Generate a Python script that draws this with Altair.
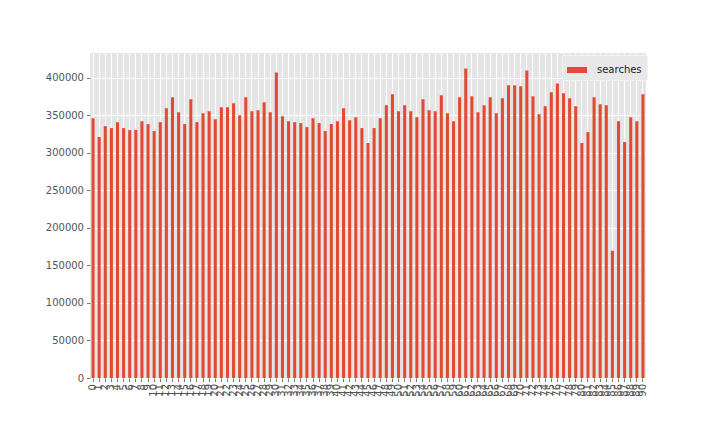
import altair as alt
import pandas as pd

# bar heights for index 0..90
searches = [
    346100, 321000, 335500, 332900, 340800, 332900, 330200, 330200, 342100, 338200,
    328900, 340800, 359400, 373900, 354100, 338200, 371300, 340800, 352700, 355400,
    344800, 360600, 360600, 366000, 350100, 373900, 355400, 356700, 367300, 354100,
    407000, 348800, 342100, 340800, 339500, 334200, 346100, 339500, 328900, 338200,
    342100, 359400, 343400, 347400, 332900, 313000, 332900, 346100, 363300, 377900,
    355400, 363300, 355400, 347400, 371300, 356700, 355400, 376600, 352700, 342100,
    373900, 412300, 375200, 354100, 363300, 373900, 352700, 372600, 389800, 389800,
    388500, 409700, 375200, 351400, 362000, 380500, 392400, 379200, 372600, 362000,
    313000, 327500, 373900, 364600, 363300, 169500, 342100, 314300, 347400, 342100,
    377900,
]
index = list(range(len(searches)))
y_ticks = [0, 50000, 100000, 150000, 200000, 250000, 300000, 350000, 400000]

df = pd.DataFrame({"idx": index, "searches": searches, "series": ["searches"] * len(index)})

bars = alt.Chart(df).mark_bar(color="#E24A33").encode(
    x=alt.X(
        "idx:O",
        sort=index,
        scale=alt.Scale(paddingInner=0.5, paddingOuter=0.25),
        axis=alt.Axis(
            title=None, labelAngle=270, labelOverlap=False, labelBound=False,
            labelFontSize=10, labelColor="#555555", labelFont="DejaVu Sans",
            tickColor="#555555", tickSize=3.5, tickWidth=0.8, domain=False,
            grid=True, gridColor="#FFFFFF", gridWidth=1, bandPosition=0.5,
            labelPadding=2,
        ),
    ),
    y=alt.Y(
        "searches:Q",
        scale=alt.Scale(domain=[0, 432900], nice=False, zero=True),
        axis=alt.Axis(
            title=None, values=y_ticks, format="d",
            labelFontSize=10, labelColor="#555555", labelFont="DejaVu Sans",
            tickColor="#555555", tickSize=3.5, tickWidth=0.8, domain=False,
            grid=True, gridColor="#FFFFFF", gridWidth=1, labelPadding=3,
        ),
    ),
    color=alt.Color(
        "series:N",
        scale=alt.Scale(range=["#E24A33"]),
        legend=alt.Legend(
            title=None, orient="none", legendX=472, legendY=2,
            symbolType="M-1,-0.3H1V0.3H-1Z", symbolSize=400,
            symbolStrokeWidth=0, labelFontSize=10, labelFont="DejaVu Sans",
            labelColor="#222222", fillColor="#E8E8E8", strokeColor="#F2F2F2",
            padding=5, cornerRadius=2, symbolOffset=0, labelOffset=10,
        ),
    ),
)

chart = bars.properties(
    width=556,
    height=325,
    autosize=alt.AutoSizeParams(type="none"),
    padding={"left": 82, "top": 45, "right": 66, "bottom": 46},
    background="#FFFFFF",
).configure_view(fill="#E5E5E5", stroke=None)

chart.save("out.html", embed_options={"renderer": "svg", "actions": False})
